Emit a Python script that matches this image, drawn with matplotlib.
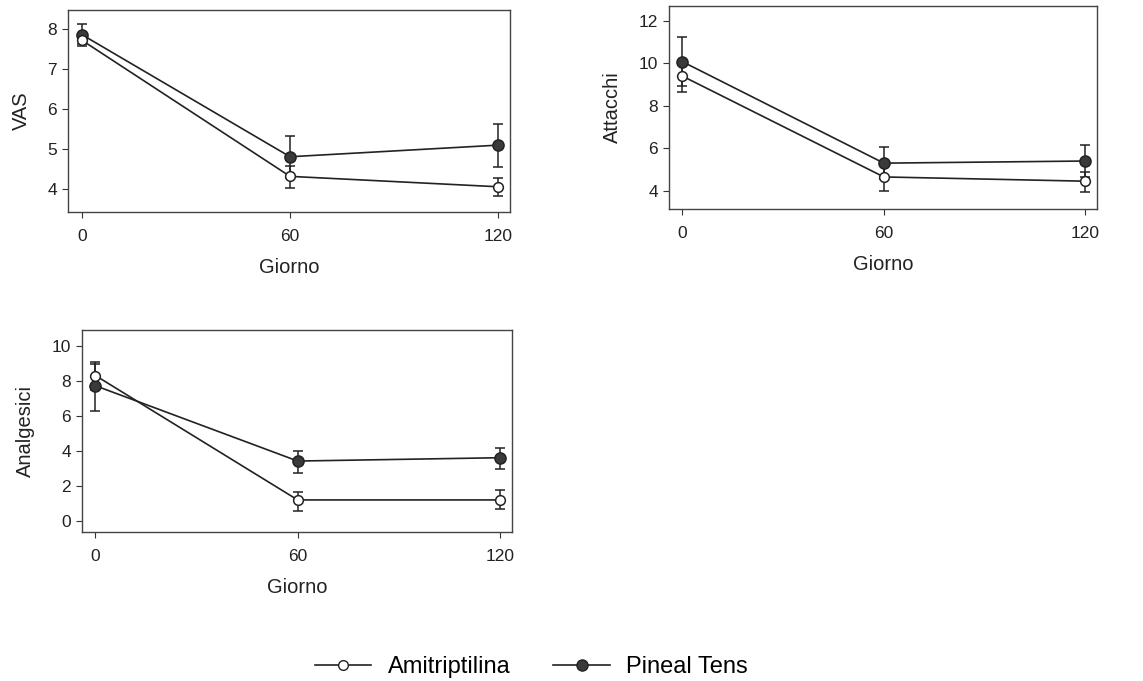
import matplotlib.pyplot as plt
import numpy as np
from matplotlib.lines import Line2D

plt.rcParams['font.family'] = ['Liberation Sans', 'DejaVu Sans']

giorni = [0, 60, 120]
gruppi = ['Amitriptilina', 'Pineal Tens']

# VAS: media, limite inferiore, limite superiore
vas_ami = [7.72, 4.32, 4.06]
vas_ami_lo = [7.58, 4.04, 3.82]
vas_ami_hi = [7.88, 4.58, 4.29]
vas_pin = [7.86, 4.81, 5.10]
vas_pin_lo = [7.62, 4.28, 4.56]
vas_pin_hi = [8.12, 5.33, 5.64]

# Attacchi
att_ami = [9.40, 4.65, 4.45]
att_ami_lo = [8.64, 4.00, 3.93]
att_ami_hi = [10.10, 5.30, 4.90]
att_pin = [10.08, 5.30, 5.40]
att_pin_lo = [8.95, 4.55, 4.65]
att_pin_hi = [11.23, 6.07, 6.17]

# Analgesici
ana_ami = [8.30, 1.20, 1.20]
ana_ami_lo = [7.50, 0.59, 0.67]
ana_ami_hi = [9.09, 1.67, 1.77]
ana_pin = [7.72, 3.42, 3.61]
ana_pin_lo = [6.29, 2.72, 2.95]
ana_pin_hi = [8.95, 3.99, 4.18]

pannelli = [
    ('VAS', [0.0595, 0.6887, 0.387, 0.2966], (3.43, 8.475), [4, 5, 6, 7, 8],
     (vas_ami, vas_ami_lo, vas_ami_hi), (vas_pin, vas_pin_lo, vas_pin_hi)),
    ('Attacchi', [0.5853, 0.6931, 0.3745, 0.298], (3.14, 12.7), [4, 6, 8, 10, 12],
     (att_ami, att_ami_lo, att_ami_hi), (att_pin, att_pin_lo, att_pin_hi)),
    ('Analgesici', [0.0717, 0.2188, 0.376, 0.2966], (-0.63, 10.9), [0, 2, 4, 6, 8, 10],
     (ana_ami, ana_ami_lo, ana_ami_hi), (ana_pin, ana_pin_lo, ana_pin_hi)),
]

fig = plt.figure(figsize=(11.43, 6.81), dpi=100)
col = '#222222'

for label, pos, ylim, yticks, ami, pin in pannelli:
    ax = fig.add_axes(pos)
    for (m, lo, hi), fill, ms in [(pin, '#3a3a3a', 8), (ami, 'white', 7)]:
        m = np.array(m)
        err = [m - np.array(lo), np.array(hi) - m]
        ax.errorbar(giorni, m, yerr=err, color=col, lw=1.2, elinewidth=1.1,
                    capsize=3.5, capthick=1.1, marker='o', ms=ms,
                    mfc=fill, mec=col, mew=1.1)
    ax.set_xlim(-4.0, 123.5)
    ax.set_ylim(*ylim)
    ax.set_xticks(giorni)
    ax.set_yticks(yticks)
    ax.tick_params(direction='out', length=4, width=0.8, colors='#333333',
                   labelcolor='#222222', labelsize=12.5)
    ax.tick_params(axis='x', pad=8)
    ax.tick_params(axis='y', pad=4)
    for s in ax.spines.values():
        s.set_color('#444444')
        s.set_linewidth(1.0)
    ax.set_xlabel('Giorno', fontsize=14.5, color='#222222', labelpad=10)
    ax.set_ylabel(label, fontsize=14.5, color='#222222', labelpad=12)

handles = [
    Line2D([], [], color=col, lw=1.2, marker='o', ms=7, mfc='white', mec=col),
    Line2D([], [], color=col, lw=1.2, marker='o', ms=8, mfc='#3a3a3a', mec=col),
]
fig.legend(handles, gruppi, loc='center', bbox_to_anchor=(0.465, 0.02),
           ncol=2, frameon=False, fontsize=17, handlelength=2.4,
           handletextpad=0.7, columnspacing=1.8)

fig.savefig('out.png', dpi=100)
